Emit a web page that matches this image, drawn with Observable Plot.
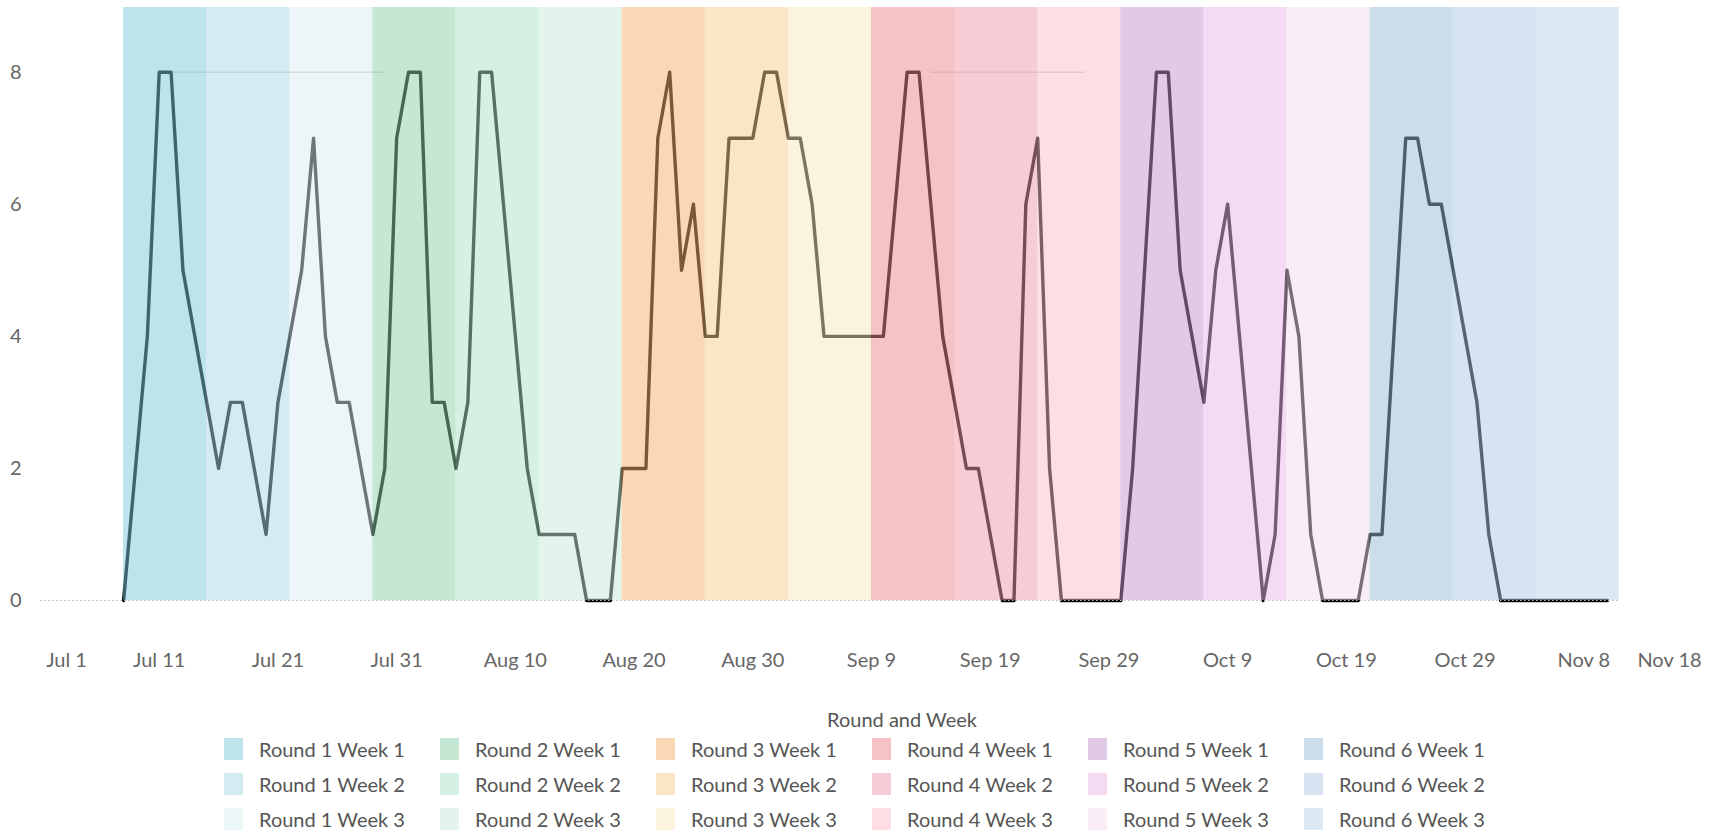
<!DOCTYPE html>
<html>
<head>
<meta charset="utf-8">
<script src="https://cdn.jsdelivr.net/npm/d3@7"></script>
<script src="https://cdn.jsdelivr.net/npm/@observablehq/plot@0.6"></script>
<style>
  body { margin: 0; background: #fff; font-family: Lato, sans-serif; }
  #chart svg { display: block; }
  #legendTitle { width: 1716px; height: 24px; line-height: 24px; margin-top: 12px; text-align: center; position: relative; left: 44px; font-size: 20px; color: #555; font-family: Lato, sans-serif; }
  #legend { margin-left: 224px; width: 1278px; }
  #legend [class*="-swatches-columns"] { font-family: Lato, sans-serif; font-size: 20px; color: #555; column-gap: 18px; margin: 0; }
  #legend [class$="-swatch"] { height: 35px; padding-bottom: 0; display: flex; align-items: center; }
  #legend [class$="-swatch"] > svg { margin-right: 16px; }
</style>
</head>
<body>
<div id="chart"></div>
<div id="legendTitle">Round and Week</div>
<div id="legend"></div>
<script>
// ---- data ----
const roundStarts = ["2021-07-08", "2021-07-29", "2021-08-19", "2021-09-09", "2021-09-30", "2021-10-21"];
const round1Counts = [0, 2, 4, 8, 8, 5, 4, 3, 2, 3, 3, 2, 1, 3, 4, 5, 7, 4, 3, 3, 2];
const round2Counts = [1, 2, 7, 8, 8, 3, 3, 2, 3, 8, 8, 6, 4, 2, 1, 1, 1, 1, 0, 0, 0];
const round3Counts = [2, 2, 2, 7, 8, 5, 6, 4, 4, 7, 7, 7, 8, 8, 7, 7, 6, 4, 4, 4, 4];
const round4Counts = [4, 4, 6, 8, 8, 6, 4, 3, 2, 2, 1, 0, 0, 6, 7, 2, 0, 0, 0, 0, 0];
const round5Counts = [0, 2, 5, 8, 8, 5, 4, 3, 5, 6, 4, 2, 0, 1, 5, 4, 1, 0, 0, 0, 0];
const round6Counts = [1, 1, 4, 7, 7, 6, 6, 5, 4, 3, 1, 0, 0, 0, 0, 0, 0, 0, 0, 0, 0];
const roundCounts = [round1Counts, round2Counts, round3Counts, round4Counts, round5Counts, round6Counts];

const bandNames = [
  "Round 1 Week 1", "Round 1 Week 2", "Round 1 Week 3",
  "Round 2 Week 1", "Round 2 Week 2", "Round 2 Week 3",
  "Round 3 Week 1", "Round 3 Week 2", "Round 3 Week 3",
  "Round 4 Week 1", "Round 4 Week 2", "Round 4 Week 3",
  "Round 5 Week 1", "Round 5 Week 2", "Round 5 Week 3",
  "Round 6 Week 1", "Round 6 Week 2", "Round 6 Week 3"
];
const weekStarts = [
  "2021-07-08", "2021-07-15", "2021-07-22",
  "2021-07-29", "2021-08-05", "2021-08-12",
  "2021-08-19", "2021-08-26", "2021-09-02",
  "2021-09-09", "2021-09-16", "2021-09-23",
  "2021-09-30", "2021-10-07", "2021-10-14",
  "2021-10-21", "2021-10-28", "2021-11-04"
];
const bandColors = [
  "#bde3ec", "#d4ebf3", "#ecf6f9",
  "#c6e7d3", "#d6f0e1", "#e2f4eb",
  "#fad8b6", "#f9e6c6", "#fcf3de",
  "#f5c2c6", "#f8ccd5", "#fcdee4",
  "#e1c9e8", "#f3dbf3", "#f9eef8",
  "#cbdcea", "#d5e4f0", "#dbe9f4"
];
const faintSegments = [
  {start: "2021-07-12", end: "2021-07-30", value: 8},
  {start: "2021-09-14", end: "2021-09-27", value: 8}
];
const yTicks = [0, 2, 4, 6, 8];
const xTicks = ["2021-07-01", "2021-07-11", "2021-07-21", "2021-07-31", "2021-08-10", "2021-08-20", "2021-08-30",
  "2021-09-09", "2021-09-19", "2021-09-29", "2021-10-09", "2021-10-19", "2021-10-29", "2021-11-08", "2021-11-18"];

// ---- build tables ----
const lineData = roundCounts.flatMap((counts, r) =>
  counts.map((v, i) => ({date: d3.utcDay.offset(new Date(roundStarts[r]), i), count: v}))
);
const bands = bandNames.map((name, i) => ({
  name,
  start: new Date(weekStarts[i]),
  end: d3.utcDay.offset(new Date(weekStarts[i]), 7)
}));
const alpha = 0.5;
// colours laid over the line at partial opacity so the shown colour equals bandColors
const overlayColors = bandColors.map(c => {
  const k = d3.rgb(c);
  const f = v => Math.max(0, Math.min(255, Math.round((v - (1 - alpha) * 255) / alpha)));
  return d3.rgb(f(k.r), f(k.g), f(k.b)).formatHex();
});
const segs = faintSegments.map(s => ({x1: new Date(s.start), x2: new Date(s.end), y: s.value}));
const fmt = d3.utcFormat("%b %-d");
const tickDates = xTicks.map(d => new Date(d));
const midTicks = tickDates.slice(1, -1);
const baseline = [{x1: tickDates[0], x2: bands[bands.length - 1].end, y: 0}];

const chart = Plot.plot({
  width: 1716,
  height: 695,
  marginLeft: 40,
  marginRight: 14,
  marginTop: 7,
  marginBottom: 95,
  style: {fontFamily: "Lato, sans-serif", fontSize: "20px", color: "#666", background: "#fff"},
  x: {type: "utc", domain: [tickDates[0], tickDates[tickDates.length - 1]]},
  y: {domain: [0, 8.98]},
  color: {type: "ordinal", domain: bandNames, range: overlayColors},
  marks: [
    Plot.line(lineData, {x: "date", y: "count", stroke: "#000", strokeWidth: 3.4}),
    Plot.rect(bands, {x1: "start", x2: "end", fill: "name", fillOpacity: alpha}),
    Plot.ruleY(baseline, {x1: "x1", x2: "x2", y: "y", stroke: "#b8b8b8", strokeDasharray: "1.5,2.5", strokeWidth: 1}),
    Plot.ruleY(segs, {x1: "x1", x2: "x2", y: "y", stroke: "#888", strokeOpacity: 0.22, strokeWidth: 1.5}),
    Plot.axisY(yTicks, {tickSize: 0, tickPadding: 19, tickFormat: d3.format("d"), label: null, fill: "#666"}),
    Plot.axisX(midTicks, {tickSize: 0, tickPadding: 52, tickFormat: fmt, label: null, fill: "#666"}),
    Plot.axisX([tickDates[0]], {tickSize: 0, tickPadding: 52, tickFormat: fmt, label: null, dx: 26, fill: "#666"}),
    Plot.axisX([tickDates[tickDates.length - 1]], {tickSize: 0, tickPadding: 52, tickFormat: fmt, label: null, dx: -33, fill: "#666"})
  ]
});
document.getElementById("chart").appendChild(chart);

const legend = Plot.legend({
  color: {type: "ordinal", domain: bandNames, range: bandColors},
  columns: 6,
  swatchWidth: 19,
  swatchHeight: 22
});
document.getElementById("legend").appendChild(legend);
</script>
</body>
</html>
